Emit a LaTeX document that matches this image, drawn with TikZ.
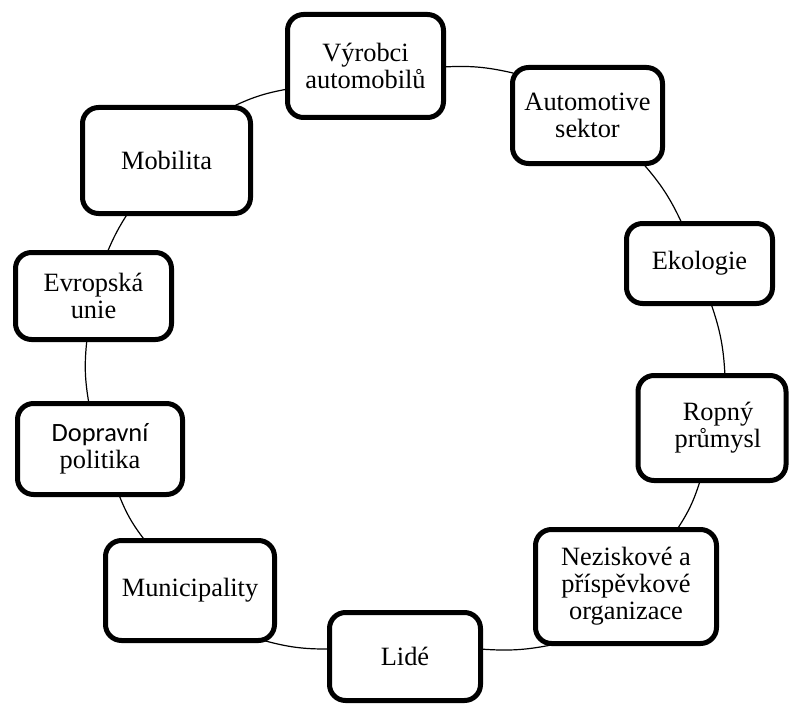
\documentclass[tikz,border=0pt]{standalone}
\usepackage{fontspec}
\setmainfont{Liberation Serif}
\newfontfamily\calibfont{Carlito}
\usetikzlibrary{calc,backgrounds}
\begin{document}
\begin{tikzpicture}[x=1pt,y=-1pt,
  cbox/.style={draw=black, line width=5pt, rounded corners=16pt, fill=white,
    inner sep=0pt, align=center, font=\fontsize{26.4}{27}\selectfont},
  link/.style={draw=black, line width=1.2pt}]
\useasboundingbox (0,0) rectangle (789,706);
\node[cbox, minimum width=156pt, minimum height=103pt] (vyr) at (365.5,66) {Výrobci\\automobilů};
\node[cbox, minimum width=150pt, minimum height=96pt] (aut) at (587.5,115.5) {Automotive\\sektor};
\node[cbox, minimum width=168pt, minimum height=106pt] (mob) at (166.5,160.5) {Mobilita};
\node[cbox, minimum width=146pt, minimum height=80pt] (eko) at (699.5,263.5) {Ekologie};
\node[cbox, minimum width=156pt, minimum height=87pt] (evr) at (93.5,296) {Evropská\\unie};
\node[cbox, minimum width=148pt, minimum height=105pt] (rop) at (712,428) {\hspace*{12pt}Ropný\\\hspace*{12pt}průmysl};
\node[cbox, minimum width=165pt, minimum height=91pt] (dop) at (100,449) {{\calibfont Dopravní}\\politika};
\node[cbox, minimum width=169pt, minimum height=100pt] (mun) at (190,590.5) {Municipality};
\node[cbox, minimum width=181pt, minimum height=114pt] (nez) at (626,586.5) {Neziskové a\\příspěvkové\\organizace};
\node[cbox, minimum width=151pt, minimum height=88pt] (lid) at (405,656.5) {Lidé};
\begin{scope}[on background layer]
\draw[link] ($(vyr.center)+(77.5,1)$) to[bend left=8] ($(aut.center)+(-74.5,-42.5)$);
\draw[link] ($(aut.center)+(55.5,48)$) to[bend left=8] ($(eko.center)+(-17.5,-40)$);
\draw[link] ($(eko.center)+(11.5,40)$) to[bend left=8] ($(rop.center)+(13,-52)$);
\draw[link] ($(rop.center)+(-12,53)$) to[bend left=8] ($(nez.center)+(51,-57)$);
\draw[link] ($(nez.center)+(-70,57.5)$) to[bend left=8] ($(lid.center)+(75,-7.5)$);
\draw[link] ($(lid.center)+(-75,-7.5)$) to[bend left=8] ($(mun.center)+(72,49.5)$);
\draw[link] ($(mun.center)+(-45,-50)$) to[bend left=8] ($(dop.center)+(19,46)$);
\draw[link] ($(dop.center)+(-11,-45)$) to[bend left=8] ($(evr.center)+(-6.5,43)$);
\draw[link] ($(evr.center)+(13.5,-43)$) to[bend left=5] ($(mob.center)+(-38.5,52.5)$);
\draw[link] ($(mob.center)+(63.5,-52.5)$) to[bend left=8] ($(vyr.center)+(-77.5,23)$);
\end{scope}
\end{tikzpicture}
\end{document}
